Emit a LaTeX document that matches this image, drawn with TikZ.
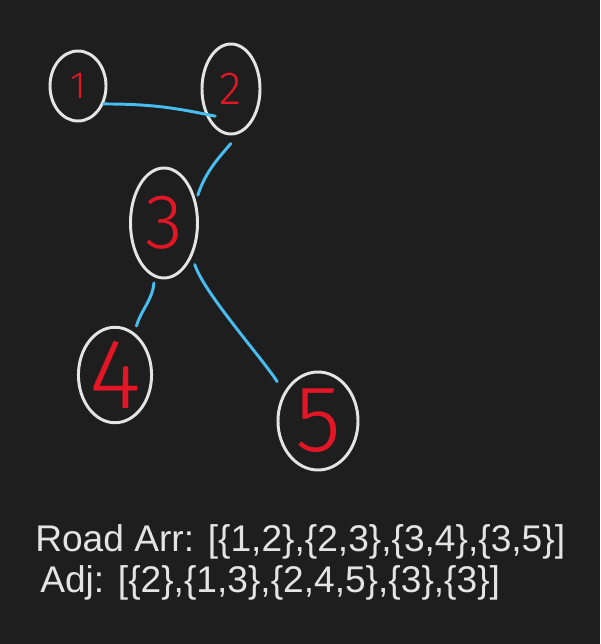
\documentclass[tikz,border=0pt]{standalone}
\usepackage{fontspec}
\setmainfont{Liberation Sans}
\newfontfamily\digitfont{Fira Sans}[UprightFont={* Light}]
\usepackage{tikz}
\usetikzlibrary{shapes.geometric,calc}
\definecolor{BoardDark}{RGB}{30,30,30}
\definecolor{ChalkWhite}{RGB}{228,228,228}
\definecolor{InkRed}{RGB}{228,22,38}
\definecolor{InkBlue}{RGB}{72,190,240}
\tikzset{
  vtx/.style={ellipse,draw=ChalkWhite,line width=2.1pt,text=InkRed,inner sep=0pt},
  blueedge/.style={draw=InkBlue,line width=2.1pt,line cap=round},
  caption/.style={text=ChalkWhite,font=\fontsize{26.4}{30}\selectfont,inner sep=0pt,anchor=base west},
}

\begin{document}
\begin{tikzpicture}[x=0.025cm,y=0.025cm]
  \fill[BoardDark] (0,0) rectangle (600,-644);

  % the five towns
  \node[vtx,minimum width=1.4cm,minimum height=1.75cm,font=\digitfont\fontsize{27}{27}\selectfont]
    (n1) at (78,-86) {1};
  \node[vtx,minimum width=1.45cm,minimum height=2.25cm,font=\digitfont\fontsize{33}{33}\selectfont]
    (n2) at (231,-89) {2};
  \node[vtx,minimum width=1.675cm,minimum height=2.75cm,font=\digitfont\fontsize{55}{55}\selectfont]
    (n3) at (164,-223) {3};
  \node[vtx,minimum width=1.7cm,minimum height=2.1cm,font=\digitfont\fontsize{71}{71}\selectfont]
    (n4) at (115,-375) {4};
  \node[vtx,minimum width=2.0cm,minimum height=2.45cm,font=\digitfont\fontsize{67}{67}\selectfont]
    (n5) at (318,-421) {5};

  % roads
  \draw[blueedge] (n1.-35) to[out=0,in=168] ($(n2.center)!0.78!(n2.-120)$);
  \draw[blueedge,shorten <=9pt,shorten >=4pt] (n2.-80) to[out=230,in=72] (n3.35);
  \draw[blueedge,shorten <=4pt,shorten >=5pt] (n3.-100) to[out=-95,in=75] (n4.65);
  \draw[blueedge,shorten <=6pt,shorten >=9pt] (n3.-50) to[out=-72,in=122,looseness=0.6] (n5.140);

  % the two lists
  \node[caption] (road) at (35,-551) {Road Arr: [\{1,2\},\{2,3\},\{3,4\},\{3,5\}]};
  \node[caption] (adj) at (40,-592) {Adj: [\{2\},\{1,3\},\{2,4,5\},\{3\},\{3\}]};
\end{tikzpicture}
\end{document}
